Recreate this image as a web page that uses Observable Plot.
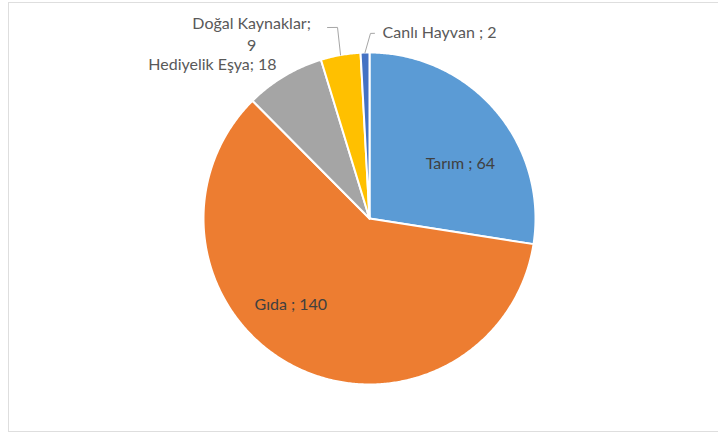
<!DOCTYPE html>
<html><head><meta charset="utf-8">
<script src="https://cdn.jsdelivr.net/npm/d3@7"></script>
<script src="https://cdn.jsdelivr.net/npm/@observablehq/plot@0.6"></script>
<style>
html,body{margin:0;padding:0;background:#fff;}
#wrap{position:relative;width:718px;height:434px;overflow:hidden;}
#frame{position:absolute;left:8px;top:2px;width:730px;height:430px;border:1px solid #dedede;box-sizing:border-box;}
#chart{position:absolute;left:0;top:0;}
</style></head><body>
<div id="wrap"><div id="frame"></div><div id="chart"></div></div>
<script>
// ---- data ----
const categories = ["Tarım", "Gıda", "Hediyelik Eşya", "Doğal Kaynaklar", "Canlı Hayvan"];
const values = [64, 140, 18, 9, 2];
const labelTexts = ["Tarım ; 64", "Gıda ; 140", "Hediyelik Eşya; 18", "Doğal Kaynaklar;\n9", "Canlı Hayvan ; 2"];
const colors = ["#5B9BD5", "#ED7D31", "#A5A5A5", "#FFC000", "#4472C4"];

// ---- layout (polar positions in units of the pie radius, degrees clockwise from 12 o'clock) ----
const labelLayout = [
  {angle: 58, r: 0.645, anchor: "middle", fill: "#404040"},
  {angle: 223, r: 0.695, anchor: "middle", fill: "#404040"},
  {angle: null, r: 1.09, anchor: "end", fill: "#595959"},
  {angle: 327.5, r: 1.322, anchor: "middle", fill: "#595959"},
  {angle: 4.0, r: 1.13, anchor: "start", fill: "#595959"}
];
const leaderLayout = [
  null, null, null,
  [[350.5, 1.167], [347.6, 1.178]],
  [[0.3, 1.115], [1.55, 1.116]]
];

const W = 718, H = 434, cx = 369, cy = 218, R = 166;
const rad = d => d * Math.PI / 180;
const polar = (a, r) => ({x: r * Math.sin(a), y: r * Math.cos(a)});

const rows = categories.map((c, i) => ({category: c, value: values[i], i}));
const arcs = d3.pie().sort(null).value(d => d.value)(rows);

const slicePts = arcs.flatMap(a => {
  const c = a.data.category;
  const pts = [{category: c, x: 0, y: 0}];
  const n = Math.max(2, Math.ceil((a.endAngle - a.startAngle) / (Math.PI / 360)));
  for (let k = 0; k <= n; k++) {
    const t = a.startAngle + (a.endAngle - a.startAngle) * k / n;
    pts.push({category: c, ...polar(t, 1)});
  }
  return pts;
});

const labels = arcs.map((a, i) => {
  const L = labelLayout[i];
  const mid = (a.startAngle + a.endAngle) / 2;
  const ang = L.angle == null ? mid : rad(L.angle);
  return {text: labelTexts[i], anchor: L.anchor, color: L.fill, ...polar(ang, L.r)};
});

const leaders = arcs.flatMap((a, i) => {
  const L = leaderLayout[i];
  if (!L) return [];
  const mid = (a.startAngle + a.endAngle) / 2;
  return [
    {k: i, ...polar(mid, 1)},
    ...L.map(([ang, r]) => ({k: i, ...polar(rad(ang), r)}))
  ];
});

const textMark = (anchor) => Plot.text(labels.filter(d => d.anchor === anchor), {
  x: "x", y: "y", text: "text", textAnchor: anchor, fill: "color",
  fontFamily: "Lato", fontSize: 16, lineAnchor: "middle", lineHeight: 1.375
});

const chart = Plot.plot({
  width: W, height: H,
  marginLeft: cx - R, marginRight: W - (cx + R),
  marginTop: cy - R, marginBottom: H - (cy + R),
  x: {domain: [-1, 1], axis: null},
  y: {domain: [-1, 1], axis: null},
  color: {domain: categories, range: colors},
  style: {background: "transparent", overflow: "visible"},
  marks: [
    Plot.line(slicePts, {x: "x", y: "y", z: "category", fill: "category", stroke: "white", strokeWidth: 2, strokeLinejoin: "round", curve: "linear-closed"}),
    Plot.line(leaders, {x: "x", y: "y", z: "k", stroke: "#a6a6a6", strokeWidth: 1}),
    textMark("middle"), textMark("end"), textMark("start")
  ]
});
document.getElementById("chart").appendChild(chart);
</script>
</body></html>
